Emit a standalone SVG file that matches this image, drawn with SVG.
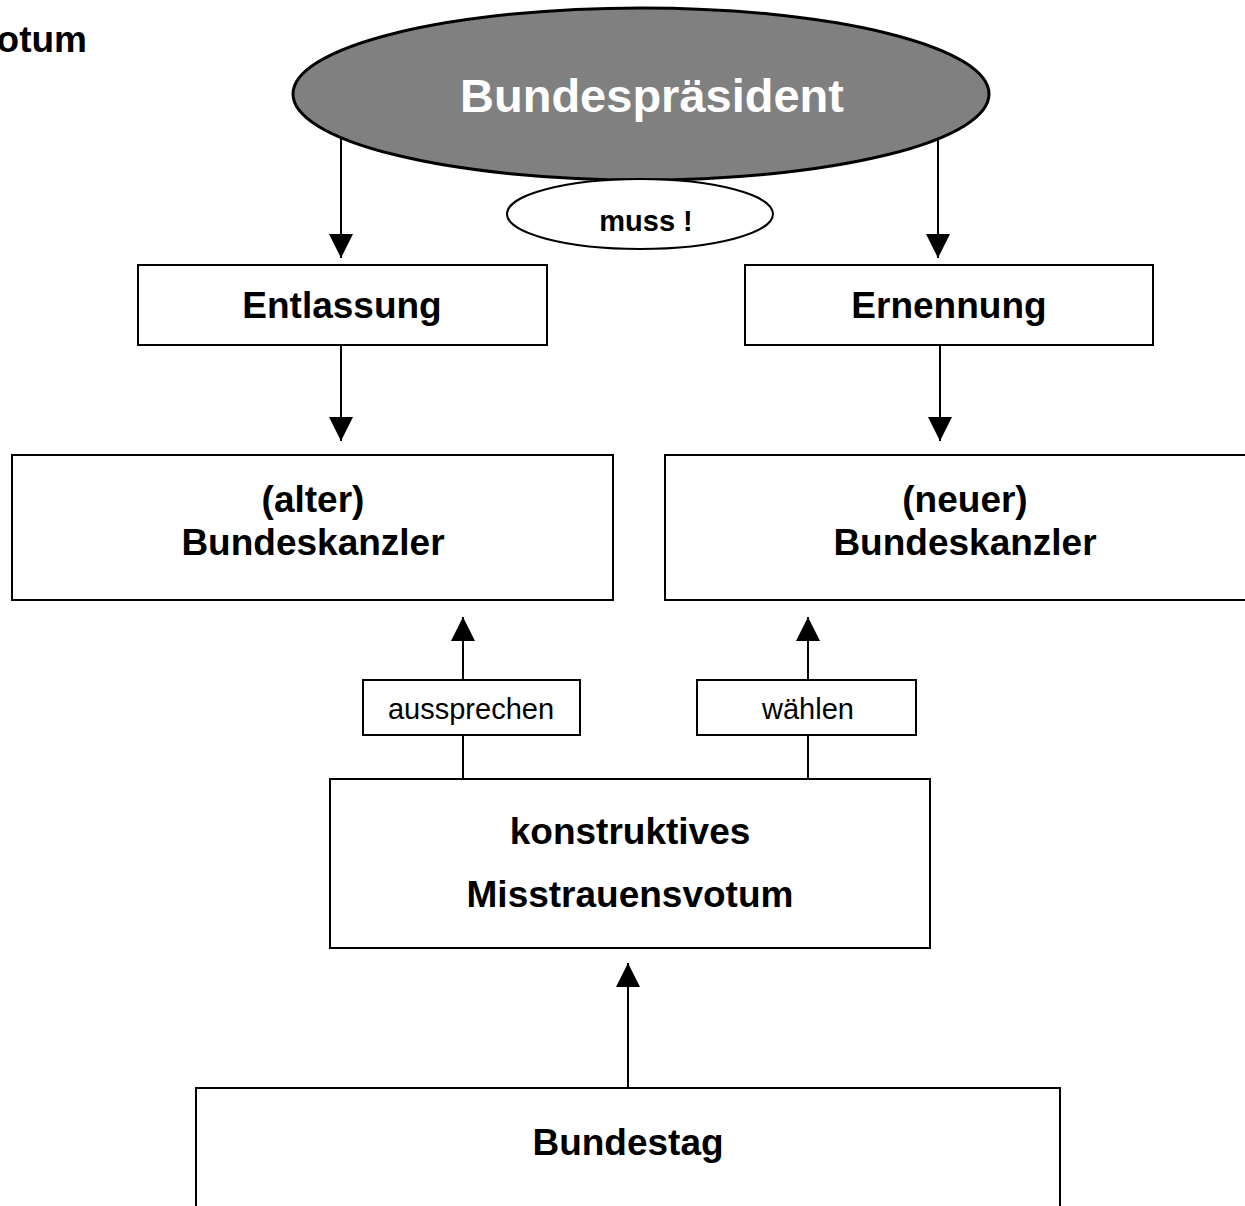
<svg xmlns="http://www.w3.org/2000/svg" width="1245" height="1206" viewBox="0 0 1245 1206">
<style>
.box{fill:#fff;stroke:#000;stroke-width:2}
.b{font-family:"Liberation Sans",Arial,sans-serif;font-weight:bold;font-size:37px;fill:#000;text-anchor:middle}
.r{font-family:"Liberation Sans",Arial,sans-serif;font-size:29px;fill:#000;text-anchor:middle}
.ln{stroke:#000;stroke-width:2;fill:none}
</style>
<defs>
<marker id="ah" markerUnits="userSpaceOnUse" markerWidth="24" markerHeight="26" refX="24" refY="12" orient="auto">
<path d="M0,0 L24,12 L0,24 Z" fill="#000"/>
</marker>
</defs>
<rect width="1245" height="1206" fill="#fff"/>
<text class="b" x="87" y="52" style="text-anchor:end">otum</text>
<g id="bundespraesident">
<ellipse cx="641" cy="94" rx="348" ry="86" fill="#808080" stroke="#000" stroke-width="3"/>
<text class="b" x="652" y="112" style="fill:#fff;font-size:47px">Bundespräsident</text>
</g>
<g id="muss">
<ellipse cx="640" cy="214" rx="133" ry="35" class="box"/>
<text class="b" x="646" y="231" style="font-size:29px">muss !</text>
</g>
<g id="entlassung">
<rect x="138" y="265" width="409" height="80" class="box"/>
<text class="b" x="342" y="318">Entlassung</text>
</g>
<g id="ernennung">
<rect x="745" y="265" width="408" height="80" class="box"/>
<text class="b" x="949" y="318">Ernennung</text>
</g>
<g id="alter">
<rect x="12" y="455" width="601" height="145" class="box"/>
<text class="b" x="313" y="512">(alter)</text>
<text class="b" x="313" y="555">Bundeskanzler</text>
</g>
<g id="neuer">
<rect x="665" y="455" width="590" height="145" class="box"/>
<text class="b" x="965" y="512">(neuer)</text>
<text class="b" x="965" y="555">Bundeskanzler</text>
</g>
<g id="aussprechen">
<rect x="363" y="680" width="217" height="55" class="box"/>
<text class="r" x="471" y="719">aussprechen</text>
</g>
<g id="waehlen">
<rect x="697" y="680" width="219" height="55" class="box"/>
<text class="r" x="808" y="719">wählen</text>
</g>
<g id="misstrauensvotum">
<rect x="330" y="779" width="600" height="169" class="box"/>
<text class="b" x="630" y="844">konstruktives</text>
<text class="b" x="630" y="907">Misstrauensvotum</text>
</g>
<g id="bundestag">
<rect x="196" y="1088" width="864" height="130" class="box"/>
<text class="b" x="628" y="1155">Bundestag</text>
</g>
<g id="connectors">
<line class="ln" x1="341" y1="137" x2="341" y2="258" marker-end="url(#ah)"/>
<line class="ln" x1="938" y1="138" x2="938" y2="258" marker-end="url(#ah)"/>
<line class="ln" x1="341" y1="345" x2="341" y2="441" marker-end="url(#ah)"/>
<line class="ln" x1="940" y1="345" x2="940" y2="441" marker-end="url(#ah)"/>
<line class="ln" x1="463" y1="680" x2="463" y2="617" marker-end="url(#ah)"/>
<line class="ln" x1="463" y1="779" x2="463" y2="735"/>
<line class="ln" x1="808" y1="680" x2="808" y2="617" marker-end="url(#ah)"/>
<line class="ln" x1="808" y1="779" x2="808" y2="735"/>
<line class="ln" x1="628" y1="1088" x2="628" y2="963" marker-end="url(#ah)"/>
</g>
</svg>
